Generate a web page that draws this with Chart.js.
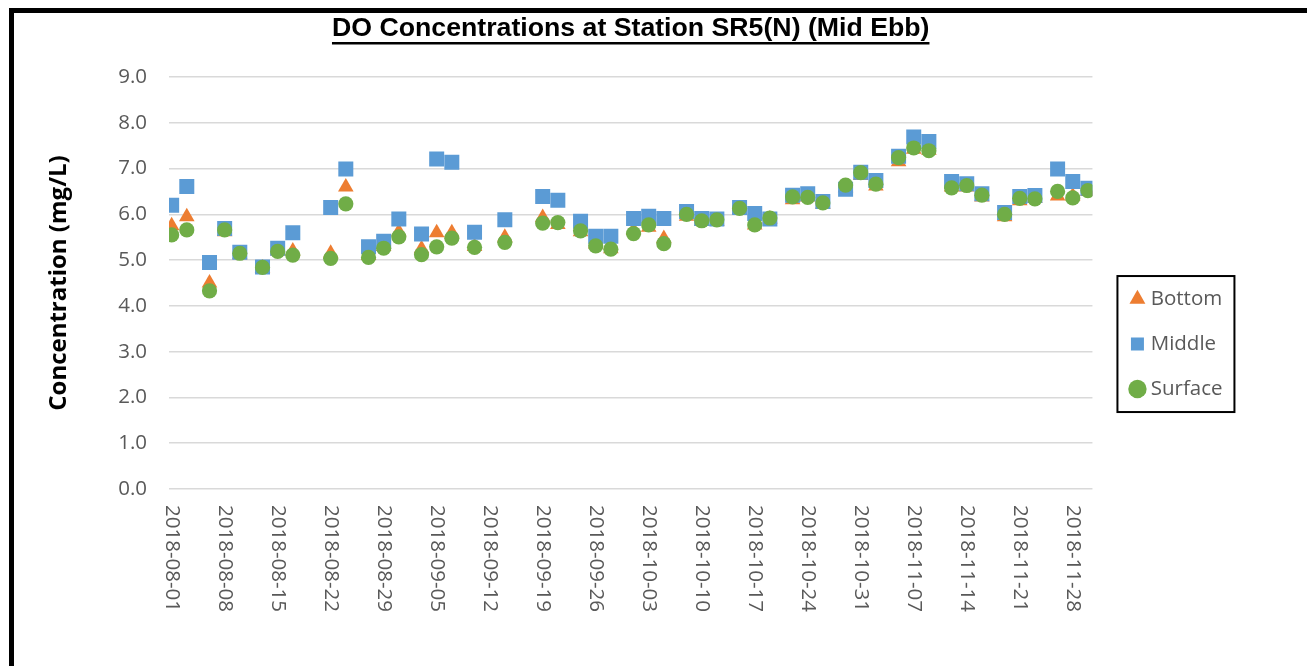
<!DOCTYPE html>
<html lang="en">
<head>
<meta charset="UTF-8">
<title>DO Concentrations at Station SR5(N) (Mid Ebb)</title>
<style>
  html, body { margin: 0; padding: 0; background: #fff; overflow: hidden; }
  .wrap { position: relative; width: 1307px; height: 666px; }
  .frame {
    position: absolute; left: 9px; top: 8px;
    width: 1400px; height: 800px;
    border: 5px solid #000; box-sizing: border-box;
    pointer-events: none;
  }
  canvas { position: absolute; left: 0; top: 0; }
</style>
<script src="https://cdn.jsdelivr.net/npm/chart.js"></script>
</head>
<body>
<div class="wrap">
  <canvas id="doChart" width="1307" height="666"></canvas>
  <div class="frame"></div>
</div>
<script>
// sampling dates (mid ebb)
const dates = [
  '2018-08-01', '2018-08-03', '2018-08-06', '2018-08-08', '2018-08-10', '2018-08-13', '2018-08-15', '2018-08-17',
  '2018-08-22', '2018-08-24', '2018-08-27', '2018-08-29', '2018-08-31', '2018-09-03', '2018-09-05', '2018-09-07',
  '2018-09-10', '2018-09-14', '2018-09-19', '2018-09-21', '2018-09-24', '2018-09-26', '2018-09-28', '2018-10-01',
  '2018-10-03', '2018-10-05', '2018-10-08', '2018-10-10', '2018-10-12', '2018-10-15', '2018-10-17', '2018-10-19',
  '2018-10-22', '2018-10-24', '2018-10-26', '2018-10-29', '2018-10-31', '2018-11-02', '2018-11-05', '2018-11-07',
  '2018-11-09', '2018-11-12', '2018-11-14', '2018-11-16', '2018-11-19', '2018-11-21', '2018-11-23', '2018-11-26',
  '2018-11-28', '2018-11-30'
];

// DO (mg/L)
const bottom = [
  5.75, 5.95, 4.50, 5.62, 5.12, 4.83, 5.20, 5.20, 5.15, 6.60,
  5.10, 5.30, 5.62, 5.25, 5.60, 5.60, 5.30, 5.50, 5.93, 5.78,
  5.62, 5.35, 5.25, 5.65, 5.72, 5.47, 5.96, 5.85, 5.85, 6.10,
  5.77, 5.90, 6.32, 6.38, 6.22, 6.58, 6.85, 6.62, 7.15, 7.42,
  7.40, 6.60, 6.60, 6.38, 5.95, 6.30, 6.35, 6.40, 6.40, 6.50
];
const middle = [
  6.20, 6.61, 4.95, 5.69, 5.17, 4.85, 5.26, 5.60, 6.15, 6.99,
  5.29, 5.41, 5.90, 5.57, 7.21, 7.14, 5.61, 5.88, 6.39, 6.31,
  5.85, 5.52, 5.52, 5.91, 5.96, 5.91, 6.06, 5.91, 5.90, 6.15,
  6.02, 5.90, 6.42, 6.45, 6.28, 6.55, 6.92, 6.74, 7.27, 7.69,
  7.59, 6.72, 6.67, 6.45, 6.04, 6.39, 6.41, 6.99, 6.72, 6.57
];
const surface = [
  5.55, 5.66, 4.33, 5.66, 5.15, 4.84, 5.19, 5.11, 5.04, 6.23,
  5.06, 5.26, 5.51, 5.12, 5.29, 5.48, 5.28, 5.39, 5.81, 5.82,
  5.64, 5.31, 5.24, 5.58, 5.77, 5.36, 6.00, 5.86, 5.88, 6.13,
  5.77, 5.92, 6.38, 6.37, 6.25, 6.64, 6.91, 6.66, 7.24, 7.45,
  7.39, 6.58, 6.63, 6.42, 6.00, 6.35, 6.34, 6.50, 6.36, 6.52
];

const tickLabels = [
  '2018-08-01', '2018-08-08', '2018-08-15', '2018-08-22', '2018-08-29', '2018-09-05',
  '2018-09-12', '2018-09-19', '2018-09-26', '2018-10-03', '2018-10-10', '2018-10-17',
  '2018-10-24', '2018-10-31', '2018-11-07', '2018-11-14', '2018-11-21', '2018-11-28'
];

const chartTitle = 'DO Concentrations at Station SR5(N) (Mid Ebb)';
const yTitle = 'Concentration (mg/L)';

// days since first date
const t0 = Date.parse(dates[0]);
const dayOf = s => (Date.parse(s) - t0) / 86400000;
const toPoints = vals => vals.map((v, i) => ({ x: dayOf(dates[i]), y: v }));

const TITLE_FONT = 'bold 26.7px "Liberation Sans", Arial, sans-serif';
const TICK_FONT = '20.5px "Open Sans", sans-serif';
const LEG_PAD = 24.5, LEG_FS = 20.5, LEG_BW = 6;

Chart.defaults.font.family = '"Open Sans", sans-serif';
Chart.defaults.color = '#595959';

// move legend + centre title on plot area
const placeBoxes = {
  id: 'placeBoxes',
  afterLayout(chart) {
    const ca = chart.chartArea;
    const lg = chart.legend;
    const w = lg.width, h = lg.height;
    lg.left = ca.right + 17.5;
    lg.right = lg.left + w;
    lg.top = ca.top + 187.25;
    lg.bottom = lg.top + h;
    const tb = chart.titleBlock;
    const tw = tb.right - tb.left;
    const cx = (ca.left + ca.right) / 2;
    tb.left = cx - tw / 2;
    tb.right = cx + tw / 2;
  },
  afterDraw(chart) {
    const ctx = chart.ctx;
    ctx.save();
    // title underline
    const tb = chart.titleBlock;
    ctx.font = TITLE_FONT;
    const w = ctx.measureText(chartTitle).width;
    const cx = (tb.left + tb.right) / 2;
    ctx.fillStyle = '#000';
    ctx.fillRect(cx - w / 2, 42, w, 2.5);
    // legend frame
    const lg = chart.legend;
    const mx = lg.left + LEG_PAD + LEG_BW / 2;
    const my = lg.top + LEG_PAD + LEG_FS / 2;
    ctx.strokeStyle = '#000';
    ctx.lineWidth = 2;
    ctx.strokeRect(mx - 20, my - 23, 117, 136);
    ctx.restore();
  }
};

// vertical date labels, reading downwards
const xLabels = {
  id: 'xLabels',
  afterDraw(chart) {
    const sc = chart.scales.x;
    const ctx = chart.ctx;
    ctx.save();
    ctx.font = TICK_FONT;
    ctx.fillStyle = '#595959';
    ctx.textAlign = 'left';
    ctx.textBaseline = 'middle';
    tickLabels.forEach(lbl => {
      const x = sc.getPixelForValue(dayOf(lbl));
      ctx.save();
      ctx.translate(x, sc.top + 16);
      ctx.rotate(Math.PI / 2);
      ctx.fillText(lbl, 0, 0);
      ctx.restore();
    });
    ctx.restore();
  }
};

new Chart(document.getElementById('doChart'), {
  type: 'scatter',
  data: {
    datasets: [
      {
        label: 'Bottom', data: toPoints(bottom), order: 3,
        pointStyle: 'triangle', pointRadius: 9,
        backgroundColor: '#ED7D31', borderColor: '#ED7D31', borderWidth: 0
      },
      {
        label: 'Middle', data: toPoints(middle), order: 2,
        pointStyle: 'rect', pointRadius: 10.6,
        backgroundColor: '#5B9BD5', borderColor: '#5B9BD5', borderWidth: 0
      },
      {
        label: 'Surface', data: toPoints(surface), order: 1,
        pointStyle: 'circle', pointRadius: 7.6,
        backgroundColor: '#70AD47', borderColor: '#70AD47', borderWidth: 0
      }
    ]
  },
  options: {
    responsive: false,
    animation: false,
    events: [],
    layout: { padding: { left: 14, top: 13, right: 92, bottom: 0 } },
    plugins: {
      title: {
        display: true,
        text: chartTitle,
        color: '#000',
        font: { family: '"Liberation Sans", Arial, sans-serif', size: 26.7, weight: 'bold' },
        padding: { top: 0, bottom: 32 }
      },
      legend: {
        position: 'right',
        align: 'start',
        labels: {
          usePointStyle: true,
          boxWidth: LEG_BW,
          boxHeight: 13,
          padding: LEG_PAD,
          color: '#595959',
          font: { size: LEG_FS },
          sort: (a, b) => a.datasetIndex - b.datasetIndex
        }
      },
      tooltip: { enabled: false }
    },
    scales: {
      x: {
        type: 'linear',
        min: -0.35,
        max: 121.6,
        afterBuildTicks: s => { s.ticks = tickLabels.map(t => ({ value: dayOf(t) })); },
        afterFit: s => { s.height = 177; },
        grid: { display: false },
        border: { display: false },
        ticks: { display: false }
      },
      y: {
        min: 0,
        max: 9,
        afterFit: s => { s.width = 155; },
        ticks: {
          stepSize: 1,
          padding: 22,
          color: '#595959',
          font: { size: 20.5 },
          callback: v => v.toFixed(1)
        },
        grid: { color: '#D9D9D9', lineWidth: 1.5, drawTicks: false },
        border: { display: false },
        title: {
          display: true,
          text: yTitle,
          color: '#000',
          font: { size: 24, weight: 'bold' },
          padding: { top: 31, bottom: 0 }
        }
      }
    }
  },
  plugins: [placeBoxes, xLabels]
});
</script>
</body>
</html>
